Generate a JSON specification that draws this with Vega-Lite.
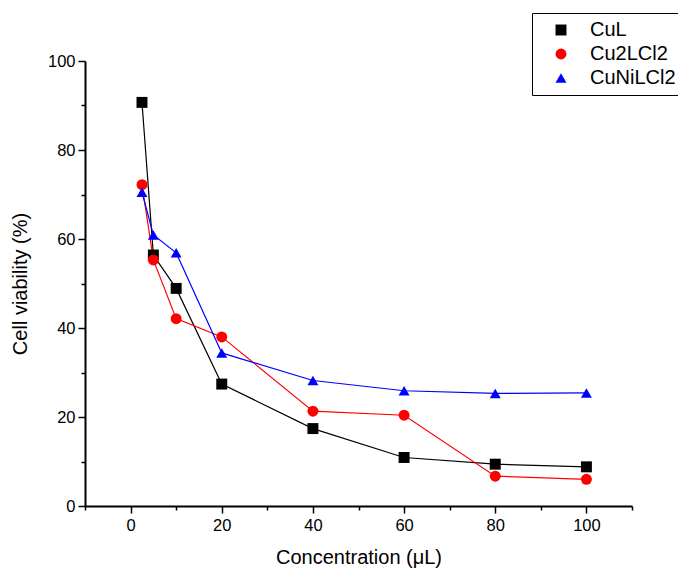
{
  "$schema": "https://vega.github.io/schema/vega-lite/v6.json",
  "width": 547,
  "height": 445,
  "autosize": {"type": "none"},
  "padding": {"left": 85, "top": 61, "right": 46, "bottom": 63},
  "config": {"view": {"stroke": null}, "font": "Liberation Sans"},
  "data": {"values": [
    {"conc": 2.5, "viability": 90.7, "series": "CuL"},
    {"conc": 5, "viability": 56.4, "series": "CuL"},
    {"conc": 10, "viability": 48.9, "series": "CuL"},
    {"conc": 20, "viability": 27.4, "series": "CuL"},
    {"conc": 40, "viability": 17.4, "series": "CuL"},
    {"conc": 60, "viability": 10.9, "series": "CuL"},
    {"conc": 80, "viability": 9.4, "series": "CuL"},
    {"conc": 100, "viability": 8.8, "series": "CuL"},
    {"conc": 2.5, "viability": 72.2, "series": "Cu2LCl2"},
    {"conc": 5, "viability": 55.3, "series": "Cu2LCl2"},
    {"conc": 10, "viability": 42.1, "series": "Cu2LCl2"},
    {"conc": 20, "viability": 38.0, "series": "Cu2LCl2"},
    {"conc": 40, "viability": 21.3, "series": "Cu2LCl2"},
    {"conc": 60, "viability": 20.4, "series": "Cu2LCl2"},
    {"conc": 80, "viability": 6.7, "series": "Cu2LCl2"},
    {"conc": 100, "viability": 6.0, "series": "Cu2LCl2"},
    {"conc": 2.5, "viability": 70.5, "series": "CuNiLCl2"},
    {"conc": 5, "viability": 60.9, "series": "CuNiLCl2"},
    {"conc": 10, "viability": 56.9, "series": "CuNiLCl2"},
    {"conc": 20, "viability": 34.4, "series": "CuNiLCl2"},
    {"conc": 40, "viability": 28.2, "series": "CuNiLCl2"},
    {"conc": 60, "viability": 25.9, "series": "CuNiLCl2"},
    {"conc": 80, "viability": 25.3, "series": "CuNiLCl2"},
    {"conc": 100, "viability": 25.4, "series": "CuNiLCl2"}
  ]},
  "encoding": {
    "x": {
      "field": "conc", "type": "quantitative",
      "scale": {"domain": [-10, 110], "nice": false, "zero": false},
      "axis": {
        "title": "Concentration (μL)",
        "values": [-10, 0, 10, 20, 30, 40, 50, 60, 70, 80, 90, 100, 110],
        "labelExpr": "(datum.value % 20 === 0) ? datum.label : ''",
        "grid": false,
        "domainColor": "#000000", "domainWidth": 2,
        "tickColor": "#000000", "tickWidth": 1.5,
        "tickSize": {"condition": {"test": "datum.value % 20 === 0", "value": 7}, "value": 4},
        "labelFontSize": 16.5, "labelColor": "#000000", "labelPadding": 4,
        "titleFontSize": 20, "titleFontWeight": "normal", "titleColor": "#000000", "titlePadding": 14
      }
    },
    "y": {
      "field": "viability", "type": "quantitative",
      "scale": {"domain": [0, 100], "nice": false},
      "axis": {
        "title": "Cell viability (%)",
        "values": [0, 10, 20, 30, 40, 50, 60, 70, 80, 90, 100],
        "labelExpr": "(datum.value % 20 === 0) ? datum.label : ''",
        "grid": false,
        "domainColor": "#000000", "domainWidth": 2,
        "tickColor": "#000000", "tickWidth": 1.5,
        "tickSize": {"condition": {"test": "datum.value % 20 === 0", "value": 7}, "value": 4},
        "labelFontSize": 16.5, "labelColor": "#000000", "labelPadding": 3,
        "titleFontSize": 20, "titleFontWeight": "normal", "titleColor": "#000000", "titlePadding": 17
      }
    },
    "color": {"field": "series", "type": "nominal",
      "scale": {"domain": ["CuL", "Cu2LCl2", "CuNiLCl2"], "range": ["#000000", "#ff0000", "#0000ff"]},
      "legend": {
        "title": null, "orient": "none", "legendX": 447, "legendY": -48,
        "strokeColor": "#000000", "padding": 7, "labelFontSize": 20, "labelColor": "#000000",
        "rowPadding": 4, "symbolOpacity": 1, "symbolStrokeWidth": 0, "symbolSize": 400,
        "symbolOffset": 12, "labelOffset": 19
      }}
  },
  "layer": [
    {
      "mark": {"type": "line", "strokeWidth": 1.2}
    },
    {
      "mark": {"type": "point", "filled": true, "opacity": 1},
      "encoding": {
        "shape": {"field": "series", "type": "nominal",
          "scale": {"domain": ["CuL", "Cu2LCl2", "CuNiLCl2"], "range": ["square", "circle", "triangle-up"]},
          "legend": null},
        "size": {"field": "series", "type": "nominal",
          "scale": {"domain": ["CuL", "Cu2LCl2", "CuNiLCl2"], "range": [120, 120, 170]},
          "legend": null}
      }
    }
  ]
}
